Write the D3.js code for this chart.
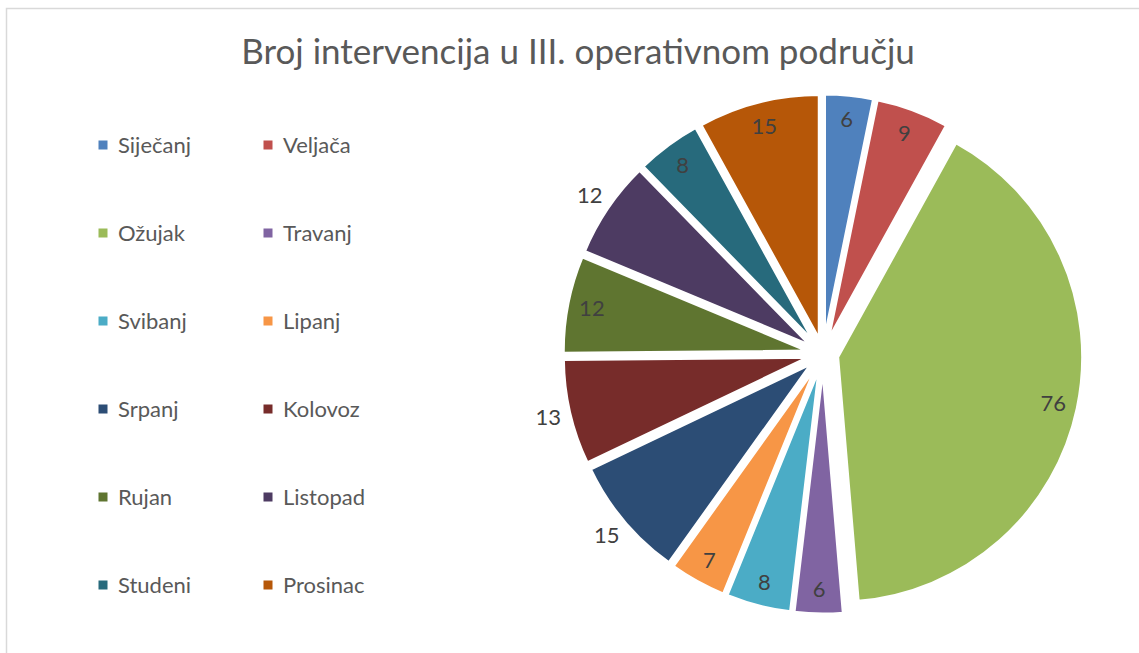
<!DOCTYPE html>
<html>
<head>
<meta charset="utf-8">
<script src="https://cdn.jsdelivr.net/npm/d3@7"></script>
<style>
	body { margin:0; background:#ffffff; }
	svg text { font-family: Lato, "Open Sans", sans-serif; }
</style>
</head>
<body>
<div id="idChart"></div>
<script>
var aMonths = ["Siječanj","Veljača","Ožujak","Travanj","Svibanj","Lipanj","Srpanj","Kolovoz","Rujan","Listopad","Studeni","Prosinac"];
var aValues = [6,9,76,6,8,7,15,13,12,12,8,15];
var aColors = ["#4F81BD","#C0504D","#9BBB59","#8064A2","#4BACC6","#F79646","#2C4D75","#772C2A","#5F7530","#4D3B62","#276A7C","#B65708"];
// Excel "best fit" put these labels outside the slice
var aOutside = ["Srpanj","Kolovoz","Listopad"];
var sTitle = "Broj intervencija u III. operativnom području";

var iWidth = 1139;
var iHeight = 653;
var iCX = 823;
var iCY = 354;
var iRadius = 245;
var iExplode = 15;

var myCanvas = d3.select("#idChart").append("svg")
	.attr("width", iWidth)
	.attr("height", iHeight);

// chart area border, runs off the right and bottom edge
myCanvas.append("rect")
	.attr("x", 6.5)
	.attr("y", 8.5)
	.attr("width", 1160)
	.attr("height", 680)
	.attr("fill", "#ffffff")
	.attr("stroke", "#d9d9d9")
	.attr("stroke-width", 1.5);

myCanvas.append("text")
	.attr("x", 578)
	.attr("y", 64)
	.attr("text-anchor", "middle")
	.attr("font-size", 35)
	.attr("fill", "#595959")
	.text(sTitle);

var mapColor = d3.scaleOrdinal().domain(aMonths).range(aColors);

var myPie = d3.pie()
	.sort(null)
	.value(function(i) { return aValues[i]; });

var myArc = d3.arc()
	.innerRadius(0)
	.outerRadius(iRadius);

var aSlices = myPie(d3.range(aMonths.length));

function fShift(mySlice)
{
	var fMid = (mySlice.startAngle + mySlice.endAngle) / 2;
	return [iCX + iExplode * Math.sin(fMid), iCY - iExplode * Math.cos(fMid)];
}

function fLabelPos(mySlice)
{
	var fMid = (mySlice.startAngle + mySlice.endAngle) / 2;
	var fR = aOutside.indexOf(aMonths[mySlice.data]) >= 0 ? iRadius * 1.09 : iRadius * 0.9;
	return [fR * Math.sin(fMid), -fR * Math.cos(fMid)];
}

var myPieGraphics = myCanvas.append("g");

var mySliceNodes = myPieGraphics.selectAll(".PieSlice")
	.data(aSlices)
	.enter().append("g")
		.attr("class", "PieSlice")
		.attr("transform", function(mySlice) { var p = fShift(mySlice); return "translate(" + p[0] + "," + p[1] + ")"; });

mySliceNodes.append("path")
	.attr("d", myArc)
	.attr("fill", function(mySlice) { return mapColor(aMonths[mySlice.data]); })
	.attr("stroke", "#ffffff")
	.attr("stroke-width", 3)
	.attr("stroke-linejoin", "round");

mySliceNodes.append("text")
	.attr("x", function(mySlice) { return fLabelPos(mySlice)[0]; })
	.attr("y", function(mySlice) { return fLabelPos(mySlice)[1]; })
	.attr("dy", "0.35em")
	.attr("text-anchor", "middle")
	.attr("font-size", 22)
	.attr("fill", "#404040")
	.text(function(mySlice) { return aValues[mySlice.data]; });

// legend, two columns
var myLegend = myCanvas.append("g");

var myLegendItems = myLegend.selectAll(".LegendItem")
	.data(aMonths)
	.enter().append("g")
		.attr("class", "LegendItem")
		.attr("transform", function(sName, i) { return "translate(" + (103 + (i % 2) * 165) + "," + (145 + Math.floor(i / 2) * 88) + ")"; });

myLegendItems.append("rect")
	.attr("x", -4.5)
	.attr("y", -4.5)
	.attr("width", 9)
	.attr("height", 9)
	.attr("fill", function(sName) { return mapColor(sName); });

myLegendItems.append("text")
	.attr("x", 15)
	.attr("dy", "0.35em")
	.attr("font-size", 22)
	.attr("fill", "#595959")
	.text(function(sName) { return sName; });
</script>
</body>
</html>
